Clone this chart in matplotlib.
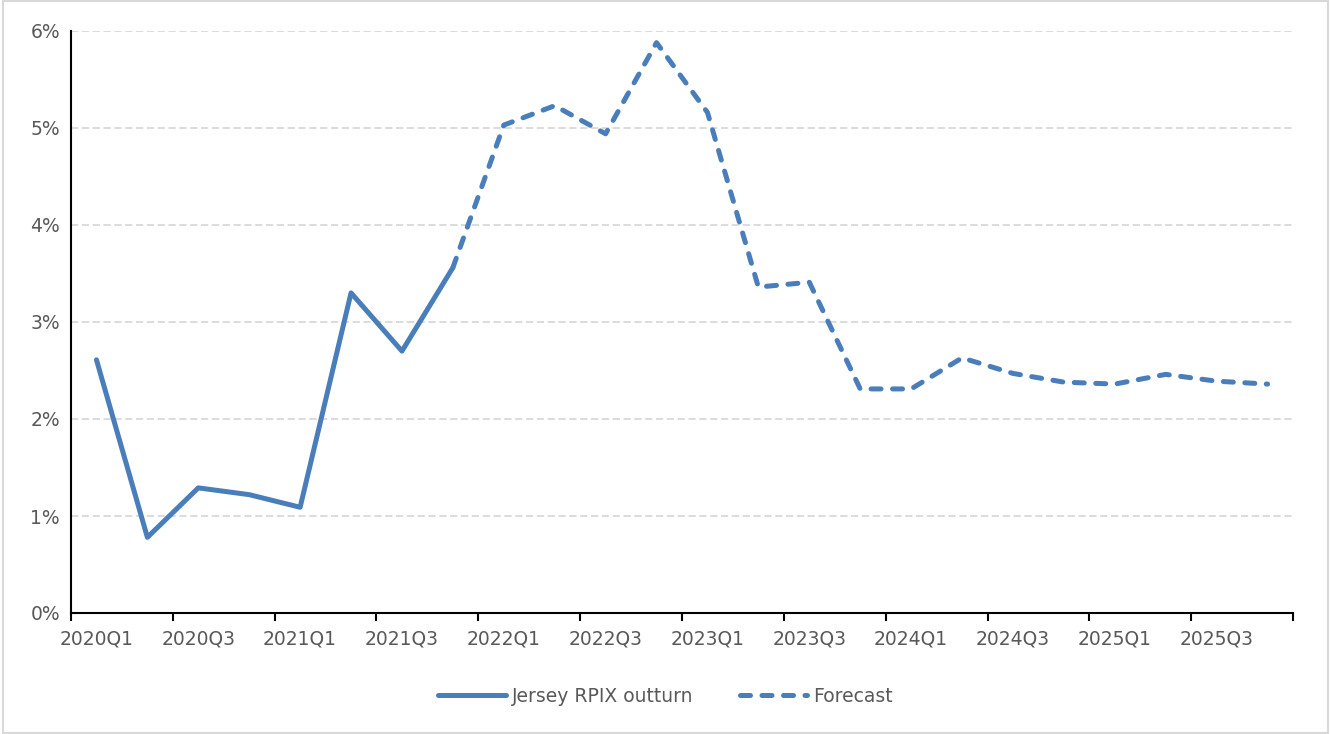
import matplotlib
matplotlib.use('Agg')
import matplotlib.pyplot as plt
from matplotlib.patches import Rectangle

# quarters 2020Q1 .. 2025Q4
quarters = [f"{y}Q{q}" for y in range(2020, 2026) for q in range(1, 5)]

# Jersey RPIX outturn (2020Q1 - 2021Q4), %
outturn = [2.61, 0.78, 1.29, 1.22, 1.09, 3.30, 2.70, 3.56]

# Forecast (2021Q4 - 2025Q4), %
forecast = [3.56, 5.03, 5.23, 4.94, 5.88, 5.16, 3.36, 3.41, 2.31, 2.31,
            2.63, 2.47, 2.38, 2.36, 2.46, 2.39, 2.36]

line_color = '#4a7ebb'
text_color = '#595959'

plt.rcParams['font.family'] = ['DejaVu Sans']

fig = plt.figure(figsize=(13.31, 7.34), dpi=100)
ax = fig.add_axes([71 / 1331, 1 - 613 / 734, (1293 - 71) / 1331, (613 - 31) / 734])

x_out = list(range(len(outturn)))
x_fc = list(range(len(outturn) - 1, len(outturn) - 1 + len(forecast)))

ax.plot(x_out, outturn, color=line_color, lw=3.6, solid_joinstyle='round',
        solid_capstyle='round', label='Jersey RPIX outturn')
ax.plot(x_fc, forecast, color=line_color, lw=3.6, linestyle=(0, (2.0, 2.3)),
        dash_capstyle='round', dash_joinstyle='round', label='Forecast')

ax.set_xlim(-0.5, len(quarters) - 0.5)
ax.set_ylim(0, 6)
ax.set_yticks(range(0, 7))
ax.set_yticklabels([f"{v}%" for v in range(0, 7)])
ax.yaxis.grid(True, color='#d9d9d9', linestyle=(0, (4, 2)), lw=1.3)
ax.set_axisbelow(True)

# category ticks between quarters, labels on every second quarter
ax.set_xticks([i - 0.5 for i in range(0, len(quarters) + 1, 2)])
ax.set_xticklabels([])
ax.set_xticks(list(range(0, len(quarters), 2)), minor=True)
ax.set_xticklabels(quarters[::2], minor=True)
ax.tick_params(axis='x', which='major', direction='out', length=6, width=1.5, color='black')
ax.tick_params(axis='x', which='minor', length=0, pad=12, labelsize=13.5, labelcolor=text_color)
ax.tick_params(axis='y', length=0, pad=8, labelsize=13.5, labelcolor=text_color)

for s in ['top', 'right']:
    ax.spines[s].set_visible(False)
for s in ['left', 'bottom']:
    ax.spines[s].set_color('black')
    ax.spines[s].set_linewidth(1.5)

leg = fig.legend(loc='center', bbox_to_anchor=(0.5, 1 - 696 / 734), ncol=2,
                 frameon=False, fontsize=13.5, handlelength=3.6, columnspacing=2.5,
                 handletextpad=0.3)
for t in leg.get_texts():
    t.set_color(text_color)

fig.patches.append(Rectangle((0.002, 0.002), 0.996, 0.996, transform=fig.transFigure,
                             fill=False, edgecolor='#d9d9d9', lw=1.5))

fig.savefig('out.png', dpi=100)
